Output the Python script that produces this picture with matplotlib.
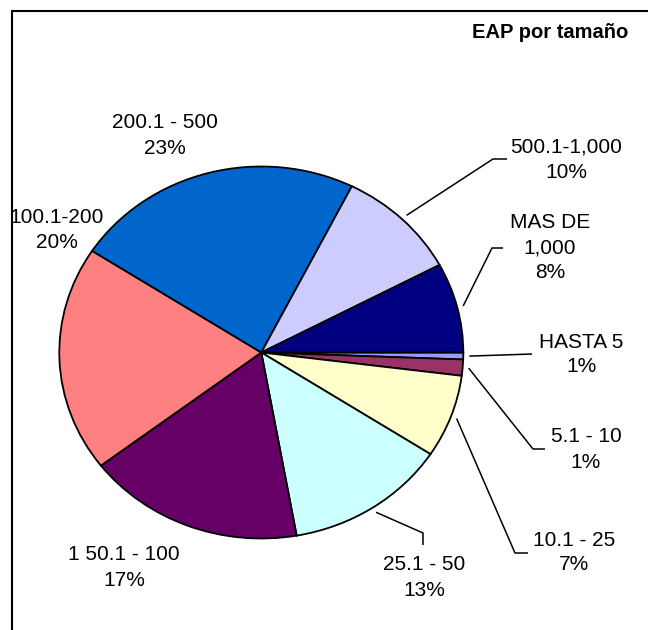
import numpy as np
import matplotlib.pyplot as plt
from matplotlib.patches import Rectangle

plt.rcParams['font.family'] = ['Liberation Sans', 'DejaVu Sans']

# datos (orden de los sectores, en sentido horario desde las 3 en punto)
categorias = ["HASTA 5", "5.1 - 10", "10.1 - 25", "25.1 - 50", "1 50.1 - 100",
              "100.1-200", "200.1 - 500", "500.1-1,000", "MAS DE\n1,000"]
porcentajes = [0.6, 1.4, 7.2, 13.0, 17.4, 19.6, 23.2, 9.8, 7.8]
colores = ["#9999FF", "#993366", "#FFFFCC", "#CCFFFF", "#660066",
           "#FF8080", "#0066CC", "#CCCCFF", "#000080"]
titulo = "EAP por tamaño"

W, H = 648, 630
cx, cy, rx, ry = 261.3, 352.5, 202, 186   # pie ellipse in pixels


def px(x, y):
    # pixel (from top-left) -> data coords of the unit pie
    return (x - cx) / rx, (cy - y) / ry


# label centres and leader-line bends (pixels)
pos_etiquetas = [(581, 354.5), (586, 449.5), (574, 552.5), (424, 577.5), (124, 567.5),
                 (57, 230), (165, 135.5), (566, 159.5), (550, 248)]
guias = [[(532, 354)], [(533, 449), (545, 449)], [(515, 553), (528, 553)],
         [(423, 533), (423, 545)], None, None, None,
         [(493, 159), (507, 159)], [(492, 248), (503, 248)]]

fig = plt.figure(figsize=(W / 100, H / 100), dpi=100)
ax = fig.add_axes([0, 0, 1, 1])
ax.pie(porcentajes, colors=colores, startangle=0, counterclock=False,
       wedgeprops=dict(edgecolor='black', linewidth=1.3))
ax.set_aspect('auto')
ax.set_xlim(-cx / rx, (W - cx) / rx)
ax.set_ylim(-(H - cy) / ry, cy / ry)
ax.axis('off')

acum = np.cumsum([0] + porcentajes[:-1])
for i, (nombre, p) in enumerate(zip(categorias, porcentajes)):
    mid = np.deg2rad(-(acum[i] + p / 2) * 3.6)
    if guias[i] is not None:
        xs = [1.03 * np.cos(mid)] + [px(*q)[0] for q in guias[i]]
        ys = [1.03 * np.sin(mid)] + [px(*q)[1] for q in guias[i]]
        ax.plot(xs, ys, color='black', lw=1.1, solid_capstyle='butt')
    tx, ty = px(*pos_etiquetas[i])
    ax.text(tx, ty, f"{nombre}\n{p:.0f}%", ha='center', va='center',
            fontsize=15, linespacing=1.4, color='black')

fig.text(628 / W, 1 - 32 / H, titulo, ha='right', va='center',
         fontsize=14.5, fontweight='bold')

# chart frame (only left and top edges fall inside the picture)
fig.add_artist(Rectangle((11.7 / W, -0.1), 1.2, (H - 11) / H + 0.1,
                         transform=fig.transFigure, fill=False,
                         edgecolor='black', lw=1.5))

fig.savefig('out.png', dpi=100)
